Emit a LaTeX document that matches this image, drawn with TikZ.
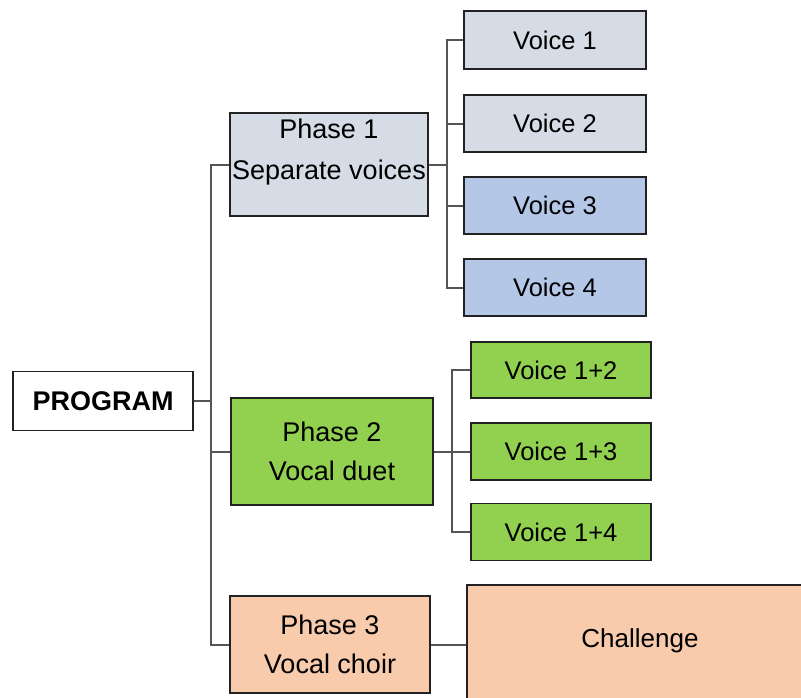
\documentclass[tikz,border=0pt]{standalone}
\usepackage{fontspec}
\setmainfont{Liberation Sans}
\definecolor{lightblue}{HTML}{D6DCE5}
\definecolor{midblue}{HTML}{B4C7E7}
\definecolor{greenbox}{HTML}{92D050}
\definecolor{peach}{HTML}{F8CBAD}
\definecolor{linegray}{HTML}{555555}
\definecolor{border}{HTML}{222222}
\begin{document}
\begin{tikzpicture}[x=1pt,y=-1pt,
  box/.style={draw=border, line width=1.6pt, inner sep=0pt, font=\fontsize{25.5}{39}\selectfont, align=center},
  phasefont/.style={font=\fontsize{27}{39}\selectfont},
  txt/.style={inner sep=0pt, font=\fontsize{27}{41}\selectfont, align=center},
  conn/.style={draw=linegray, line width=2pt}]
\useasboundingbox (0,0) rectangle (801,697);
\fill[white] (0,0) rectangle (801,697);
% boxes
\node[box, fill=white, minimum width=180pt, minimum height=59pt, font=\fontsize{27}{30}\selectfont\bfseries] (prog) at (103,401) {PROGRAM};
\node[box, fill=lightblue, minimum width=198pt, minimum height=103pt] (p1) at (329,164.5) {};
\node[txt] (p1t) at (329,152) {Phase 1\\Separate voices};
\node[box, phasefont, fill=greenbox, minimum width=202pt, minimum height=107pt] (p2) at (332,451.5) {Phase 2\\Vocal duet};
\node[box, phasefont, fill=peach, minimum width=200pt, minimum height=97pt] (p3) at (330,644.5) {Phase 3\\Vocal choir};
\node[box, fill=lightblue, minimum width=182pt, minimum height=58pt] (v1) at (555,40) {Voice 1};
\node[box, fill=lightblue, minimum width=182pt, minimum height=57pt] (v2) at (555,123.5) {Voice 2};
\node[box, fill=midblue, minimum width=182pt, minimum height=57pt] (v3) at (555,205.5) {Voice 3};
\node[box, fill=midblue, minimum width=182pt, minimum height=57pt] (v4) at (555,287.5) {Voice 4};
\node[box, fill=greenbox, minimum width=180pt, minimum height=56pt] (d12) at (561,370) {Voice 1+2};
\node[box, fill=greenbox, minimum width=180pt, minimum height=57pt] (d13) at (561,451.5) {Voice 1+3};
\node[box, fill=greenbox, minimum width=180pt, minimum height=57pt] (d14) at (561,532) {Voice 1+4};
\node[box, fill=peach, minimum width=348pt, minimum height=118pt] (ch) at (641,644) {};
\node[txt, font=\fontsize{26}{30}\selectfont] (cht) at (640,641) {Challenge};
% connector junctions
\coordinate (trunk) at (211,401);
\coordinate (bus1) at (447,164.5);
\coordinate (bus2) at (452,451.5);
% connectors
\draw[conn] (prog.east) -- (trunk);
\draw[conn] (trunk) |- (p1.west);
\draw[conn] (trunk) |- (p2.west);
\draw[conn] (trunk) |- (p3.west);
\draw[conn] (p1.east) -- (bus1);
\draw[conn] (bus1) |- (v1.west);
\draw[conn] (bus1) |- (v2.west);
\draw[conn] (bus1) |- (v3.west);
\draw[conn] (bus1) |- (v4.west);
\draw[conn] (p2.east) -- (bus2);
\draw[conn] (bus2) |- (d12.west);
\draw[conn] (bus2) |- (d13.west);
\draw[conn] (bus2) |- (d14.west);
\draw[conn] (p3.east) -- (ch.west |- p3.east);
\end{tikzpicture}
\end{document}
